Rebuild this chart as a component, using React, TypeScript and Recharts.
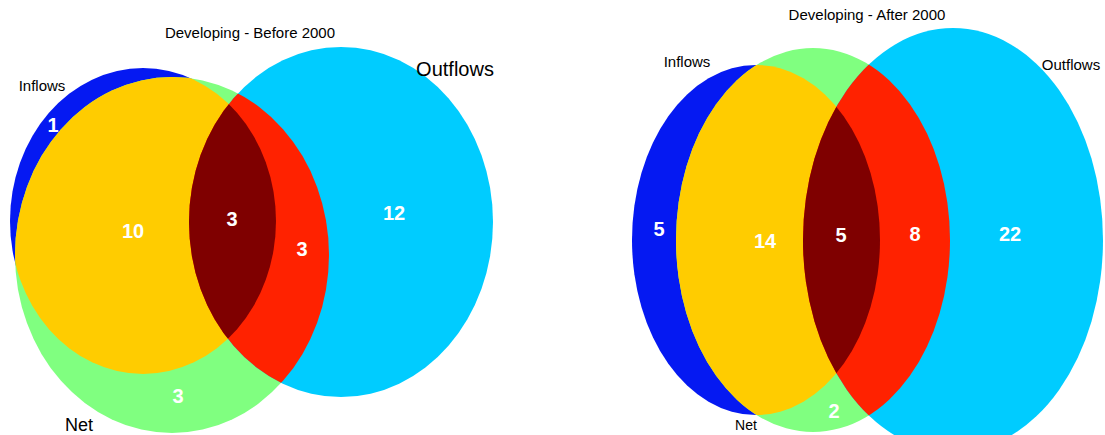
import { ScatterChart, Scatter, XAxis, YAxis } from "recharts";

// Venn diagrams: "Developing - Before 2000" and "Developing - After 2000"
const W = 1105;
const H = 435;
const X_DOMAIN: [number, number] = [0, W];
const Y_DOMAIN: [number, number] = [0, H];
// pixels per chart unit (margins are zero)
const KX = W / (X_DOMAIN[1] - X_DOMAIN[0]);
const KY = H / (Y_DOMAIN[1] - Y_DOMAIN[0]);

const CHARTS = ["before", "after"];
const CHART_TITLES = ["Developing - Before 2000", "Developing - After 2000"];
const SETS = ["Inflows", "Net", "Outflows"];
const REGIONS = ["Inflows", "Net", "Outflows", "Inflows+Net", "Net+Outflows", "All"];
const BEFORE_COUNTS = [1, 3, 12, 10, 3, 3];
const AFTER_COUNTS = [5, 2, 22, 14, 8, 5];

// ellipse centre / radii in chart units
const BEFORE_ELLIPSES = [
  { set: "Inflows", x: 143, y: 221, rx: 133, ry: 153 },
  { set: "Net", x: 172, y: 255, rx: 157, ry: 178 },
  { set: "Outflows", x: 341, y: 222, rx: 152, ry: 175 },
];
const AFTER_ELLIPSES = [
  { set: "Inflows", x: 756, y: 240, rx: 124, ry: 175 },
  { set: "Net", x: 813, y: 240, rx: 137, ry: 192 },
  { set: "Outflows", x: 953, y: 240, rx: 150, ry: 212 },
];

// anchor points for the region counts (same order as REGIONS)
const BEFORE_COUNT_POS = [[53, 132], [178, 403], [394, 220], [133, 238], [302, 256], [232, 226]];
const AFTER_COUNT_POS = [[659, 236], [834, 418], [1010, 241], [765, 248], [915, 241], [841, 242]];

// set name anchors (same order as SETS)
const BEFORE_SET_POS = [[42, 91], [79, 431], [455, 76]];
const AFTER_SET_POS = [[687, 67], [746, 430], [1071, 70]];
const BEFORE_SET_SIZE = [15, 18, 20];
const AFTER_SET_SIZE = [15, 14, 15];

const TITLE_POS = [[250, 38], [867, 20]];

const SET_COLORS: Record<string, string> = {
  Inflows: "#0519F2",
  Net: "#80FF80",
  Outflows: "#00CCFF",
};
const FONT = "'Liberation Sans', Arial, sans-serif";

const ellipses = [
  ...BEFORE_ELLIPSES.map((e) => ({ ...e, chart: CHARTS[0] })),
  ...AFTER_ELLIPSES.map((e) => ({ ...e, chart: CHARTS[1] })),
];

// overlaps: draw one ellipse again, clipped by another
const overlaps = [
  { draw: "Inflows", clip: "Net", fill: "#FFCC00" },
  { draw: "Outflows", clip: "Net", fill: "#FF2200" },
  { draw: "Outflows", clip: "Inflows", fill: "#7F0000" },
];

const countLabels = [
  ...BEFORE_COUNTS.map((v, i) => ({ region: REGIONS[i], value: v, x: BEFORE_COUNT_POS[i][0], y: BEFORE_COUNT_POS[i][1] })),
  ...AFTER_COUNTS.map((v, i) => ({ region: REGIONS[i], value: v, x: AFTER_COUNT_POS[i][0], y: AFTER_COUNT_POS[i][1] })),
];

const setLabels = [
  ...SETS.map((s, i) => ({ name: s, x: BEFORE_SET_POS[i][0], y: BEFORE_SET_POS[i][1], size: BEFORE_SET_SIZE[i] })),
  ...SETS.map((s, i) => ({ name: s, x: AFTER_SET_POS[i][0], y: AFTER_SET_POS[i][1], size: AFTER_SET_SIZE[i] })),
];

const titles = CHART_TITLES.map((t, i) => ({ name: t, x: TITLE_POS[i][0], y: TITLE_POS[i][1], size: 15 }));

const BaseEllipse = (props: any) => {
  const { cx, cy, payload } = props;
  const rx = payload.rx * KX;
  const ry = payload.ry * KY;
  return (
    <g>
      <defs>
        <clipPath id={`clip-${payload.chart}-${payload.set}`}>
          <ellipse cx={cx} cy={cy} rx={rx} ry={ry} />
        </clipPath>
      </defs>
      <ellipse cx={cx} cy={cy} rx={rx} ry={ry} fill={SET_COLORS[payload.set]} />
    </g>
  );
};

const overlapShape = (clip: string, fill: string) => (props: any) => {
  const { cx, cy, payload } = props;
  return (
    <ellipse
      cx={cx}
      cy={cy}
      rx={payload.rx * KX}
      ry={payload.ry * KY}
      fill={fill}
      clipPath={`url(#clip-${payload.chart}-${clip})`}
    />
  );
};

const CountText = (props: any) => {
  const { cx, cy, payload } = props;
  return (
    <text x={cx} y={cy} textAnchor="middle" fill="#fff" fontFamily={FONT} fontWeight="bold" fontSize={20}>
      {payload.value}
    </text>
  );
};

const NameText = (props: any) => {
  const { cx, cy, payload } = props;
  return (
    <text x={cx} y={cy} textAnchor="middle" fill="#000" fontFamily={FONT} fontSize={payload.size}>
      {payload.name}
    </text>
  );
};

export default function App() {
  return (
    <div style={{ width: W, height: H, background: "#fff" }}>
      <style>{"body{margin:0}"}</style>
      <ScatterChart width={W} height={H} margin={{ top: 0, right: 0, bottom: 0, left: 0 }}>
        <XAxis type="number" dataKey="x" domain={X_DOMAIN} allowDataOverflow hide />
        <YAxis type="number" dataKey="y" domain={Y_DOMAIN} allowDataOverflow reversed hide />
        <Scatter data={ellipses} shape={BaseEllipse} isAnimationActive={false} />
        {overlaps.map((o) => (
          <Scatter
            key={`${o.draw}-${o.clip}`}
            data={ellipses.filter((e) => e.set === o.draw)}
            shape={overlapShape(o.clip, o.fill)}
            isAnimationActive={false}
          />
        ))}
        <Scatter data={countLabels} shape={CountText} isAnimationActive={false} />
        <Scatter data={setLabels} shape={NameText} isAnimationActive={false} />
        <Scatter data={titles} shape={NameText} isAnimationActive={false} />
      </ScatterChart>
    </div>
  );
}
